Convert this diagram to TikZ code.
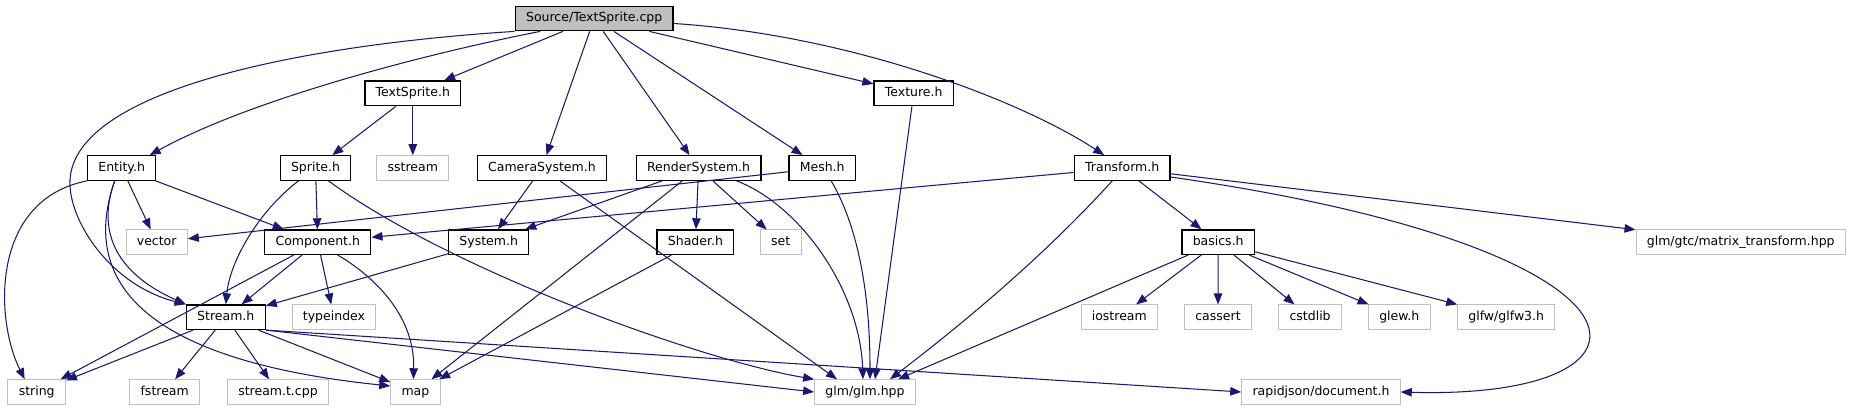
\documentclass[tikz,border=0pt]{standalone}
\usepackage{fontspec}
\setmainfont{DejaVu Sans}
\usepackage{tikz}
\usetikzlibrary{arrows.meta}

\definecolor{edgeblue}{HTML}{191970}
\definecolor{sysgray}{HTML}{BFBFBF}

\begin{document}
\begin{tikzpicture}[
  x=1pt, y=-1pt,
  font=\fontsize{12.5}{15}\selectfont,
  box/.style={draw, minimum height=24.5pt, inner xsep=10.8pt, inner ysep=0pt,
    text height=9.3pt, text depth=2.9pt, fill=white},
  hdr/.style={box, draw=black, line width=1.3pt},
  sys/.style={box, draw=sysgray, line width=1pt},
  srcfile/.style={hdr, fill=sysgray},
  arrow/.style={-{Triangle[length=11pt, width=8.5pt]}, edgeblue, line width=1.05pt},
]
  \useasboundingbox (0,0) rectangle (1855,411);

  % Source file
  \node[srcfile] (src) at (594.2,18.5) {Source/TextSprite.cpp};

  % Level 1
  \node[hdr] (txs) at (412.8,93.3) {TextSprite.h};
  \node[hdr] (tex) at (913.7,93.3) {Texture.h};

  % Level 2
  \node[hdr] (ent)  at (121.7,168)  {Entity.h};
  \node[hdr] (spr)  at (315.5,168)  {Sprite.h};
  \node[sys] (sst)  at (412.8,168)  {sstream};
  \node[hdr] (cam)  at (541.9,168)  {CameraSystem.h};
  \node[hdr] (rsy)  at (698.6,168)  {RenderSystem.h};
  \node[hdr] (msh)  at (822.2,168)  {Mesh.h};
  \node[hdr] (trf)  at (1122.2,168) {Transform.h};

  % Level 3
  \node[sys] (vec)  at (156.7,242.2)  {vector};
  \node[hdr] (cmp)  at (317.8,242.2)  {Component.h};
  \node[hdr] (syh)  at (488.7,242.2)  {System.h};
  \node[hdr] (shd)  at (695.4,242.2)  {Shader.h};
  \node[sys] (sset) at (780.7,242.2)  {set};
  \node[hdr] (bas)  at (1218.2,242.2) {basics.h};
  \node[sys] (mtx)  at (1740.7,242.2) {glm/gtc/matrix\_transform.hpp};

  % Level 4
  \node[hdr] (stm) at (225.8,317.2)  {Stream.h};
  \node[sys] (tix) at (334,317.2)    {typeindex};
  \node[sys] (ios) at (1119.3,317.2) {iostream};
  \node[sys] (cas) at (1218,317.2)   {cassert};
  \node[sys] (csl) at (1310.1,317.2) {cstdlib};
  \node[sys] (glw) at (1399.3,317.2) {glew.h};
  \node[sys] (gfw) at (1506.2,317.2) {glfw/glfw3.h};

  % Level 5
  \node[sys] (str) at (36.7,392)  {string};
  \node[sys] (fst) at (164.7,392) {fstream};
  \node[sys] (stc) at (278,392)   {stream.t.cpp};
  \node[sys] (map) at (415.4,392) {map};
  \node[sys] (glm) at (865,392)   {glm/glm.hpp};
  \node[sys] (rjs) at (1321,392)  {rapidjson/document.h};

  % Straight includes
  \foreach \a/\b in {src/txs, src/cam, src/rsy, src/msh, src/tex,
                     txs/spr, txs/sst, ent/vec, ent/cmp, spr/cmp,
                     cam/syh, rsy/syh, rsy/shd, rsy/sset, rsy/map,
                     msh/vec, trf/cmp, trf/bas, trf/mtx,
                     cmp/str, cmp/stm, cmp/tix, syh/stm, shd/map,
                     bas/ios, bas/cas, bas/csl, bas/glw, bas/gfw,
                     stm/str, stm/fst, stm/stc, stm/map}
    \draw[arrow] (\a) -- (\b);

  % Into glm/glm.hpp and rapidjson
  \draw[arrow] (cam) -- ([xshift=-28pt]glm.north);
  \draw[arrow] (tex) -- ([xshift=10pt]glm.north);
  \draw[arrow] (bas) -- ([xshift=33pt]glm.north);
  \draw[arrow] (stm.south east) -- (glm.west);
  \draw[arrow] (stm.south east) -- (rjs.west);

  % Curved includes
  \draw[arrow] (src.south west) .. controls (300,45) and (75,90) .. (70,180)
    .. controls (68,220) and (110,285) .. (stm.north west);
  \draw[arrow] ([xshift=-54pt]src.south) .. controls (420,55) and (250,100)
    .. ([xshift=28pt]ent.north);
  \draw[arrow] ([yshift=-5pt]src.east) .. controls (850,35) and (1020,100)
    .. ([xshift=-18pt]trf.north);
  \draw[arrow] (ent.south west) .. controls (-10,200) and (-5,320)
    .. ([xshift=-12pt]str.north);
  \draw[arrow] ([xshift=-7pt]ent.south) .. controls (95,235) and (120,275)
    .. (stm.north west);
  \draw[arrow] ([xshift=-7pt]ent.south) .. controls (80,280) and (140,360)
    .. ([yshift=6pt]map.west);
  \draw[arrow] ([xshift=-17pt]spr.south) .. controls (260,210) and (230,260)
    .. (stm.north);
  \draw[arrow] ([xshift=13pt]spr.south) .. controls (450,270) and (700,360)
    .. (glm.north west);
  \draw[arrow] ([xshift=20pt]cmp.south) .. controls (380,280) and (415,320)
    .. ([xshift=-2pt]map.north);
  \draw[arrow] ([xshift=38pt]rsy.south) .. controls (800,205) and (860,290)
    .. ([xshift=-2pt]glm.north);
  \draw[arrow] ([xshift=9pt]msh.south) .. controls (860,230) and (870,300)
    .. ([xshift=5pt]glm.north);
  \draw[arrow] ([xshift=-10pt]trf.south) .. controls (1045,255) and (965,322)
    .. ([xshift=25pt]glm.north);
  \draw[arrow] ([yshift=-9pt]trf.east) .. controls (1680,250) and (1680,400)
    .. (rjs.east);
\end{tikzpicture}
\end{document}
